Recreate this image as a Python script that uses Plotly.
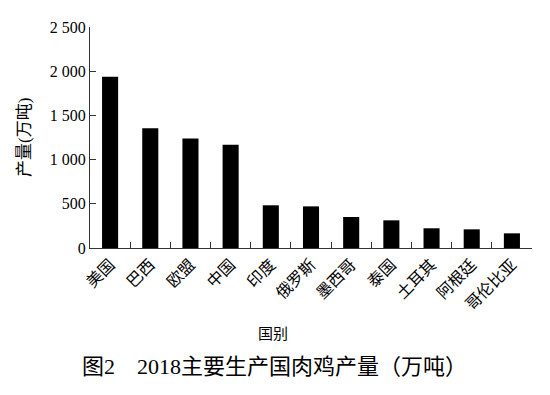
import plotly.graph_objects as go

countries = ["美国", "巴西", "欧盟", "中国", "印度", "俄罗斯", "墨西哥", "泰国", "土耳其", "阿根廷", "哥伦比亚"]
production = [1938, 1354, 1240, 1169, 483, 471, 351, 313, 223, 211, 166]
y_tickvals = [0, 500, 1000, 1500, 2000, 2500]
y_ticktext = ["0", "500", "1 000", "1 500", "2 000", "2 500"]

FONT = "Liberation Serif, Noto Sans CJK SC, serif"
OFF = 8  # default page body margin
W, H = 550 - OFF, 395 - OFF
L, R, T, B = 90 - OFF, 18, 27 - OFF, 395 - 248
PW, PH = W - L - R, H - T - B


def px_x(x):
    return (x - OFF - L) / PW


def px_y(y):
    return (H - B - (y - OFF)) / PH


fig = go.Figure(go.Bar(x=countries, y=production, marker_color="black",
                       marker_line_width=0, width=0.4))

fig.update_layout(
    width=W, height=H,
    margin=dict(l=L, r=R, t=T, b=B),
    paper_bgcolor="white", plot_bgcolor="white",
    showlegend=False,
    font=dict(family=FONT, color="black", size=15),
)
fig.update_xaxes(
    automargin=False,
    showline=True, linecolor="#333", linewidth=1,
    ticks="inside", tickson="boundaries", ticklen=6, tickcolor="#333",
    tickangle=-45, tickfont=dict(size=16, family=FONT),
    showgrid=False,
)
fig.update_yaxes(
    automargin=False,
    range=[0, 2500], showline=True, linecolor="#333", linewidth=1,
    ticks="inside", ticklen=6, tickcolor="#333",
    tickvals=y_tickvals, ticktext=y_ticktext,
    tickfont=dict(size=16, family=FONT),
    showgrid=False, zeroline=False,
)
fig.add_annotation(text="产量(万吨)", xref="paper", yref="paper",
                   x=px_x(24), y=px_y(138),
                   textangle=-90, xanchor="center", yanchor="middle", showarrow=False,
                   font=dict(size=17, family=FONT))
fig.add_annotation(text="国别", xref="paper", yref="paper",
                   x=px_x(273), y=px_y(334),
                   xanchor="center", yanchor="middle", showarrow=False,
                   font=dict(size=15, family=FONT))
fig.add_annotation(text="图2\u30002018主要生产国肉鸡产量（万吨）", xref="paper", yref="paper",
                   x=px_x(80), y=px_y(367),
                   xanchor="left", yanchor="middle", showarrow=False,
                   font=dict(size=22, family=FONT))

fig.write_html("out.html")
